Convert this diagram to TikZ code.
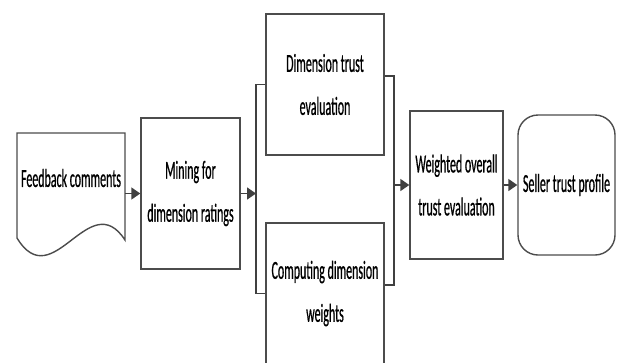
\documentclass[tikz,border=0pt]{standalone}
\usepackage{fontspec}
\newfontfamily\flowfont[FakeStretch=0.46,FakeBold=0.6]{Carlito}
\usetikzlibrary{arrows.meta}

\begin{document}
\begin{tikzpicture}[x=1pt,y=-1pt,
        box/.style={draw=black!70,line width=1.4pt,fill=white,align=center,inner sep=0pt,
            font=\flowfont\fontsize{26}{43}\selectfont},
        flow/.style={draw=black!75,line width=1.7pt,-{Triangle[length=9pt,width=12pt]}},
        link/.style={draw=black!75,line width=1.7pt}]
            \clip (0,0) rectangle (617,362);

            % document shape
            \draw[black!70,line width=1.4pt,fill=white] (17,238) -- (17,133) -- (125,133) -- (125,240)
                .. controls (89,185) and (53,297) .. (17,238);
            \node[box,draw=none,fill=none] (fb) at (71,178){Feedback comments};
            \coordinate (fbout) at (125,193.5);

            \node[box,minimum width=99pt,minimum height=151pt] (mine) at (190.5,193.5){Mining for\\dimension ratings};
            \node[box,minimum width=118pt,minimum height=141pt] (dimtrust) at (325,84.5){Dimension trust\\evaluation};
            \node[box,minimum width=118pt,minimum height=141pt] (dimweight) at (325,293.5){Computing dimension\\weights};
            \node[box,minimum width=93pt,minimum height=148pt] (overall) at (456.5,185){Weighted overall\\trust evaluation};
            \node[box,minimum width=97pt,minimum height=140pt,rounded corners=20pt] (profile) at (566.5,185){Seller trust profile};

            \coordinate (jl) at (256,193.5);
            \coordinate (jr) at (394,185);

            \draw[flow] (fbout) -- (mine.west |- fbout);
            \draw[flow] (mine.east) -- (jl);
            \draw[link] (dimtrust.west) -| (jl) |- (dimweight.west);
            \draw[link] ([yshift=8.5pt]dimtrust.east) -| (jr) |- ([yshift=8.5pt]dimweight.east);
            \draw[flow] (jr) -- (overall.west);
            \draw[flow] (overall.east) -- (profile.west);
        \end{tikzpicture}
\end{document}
